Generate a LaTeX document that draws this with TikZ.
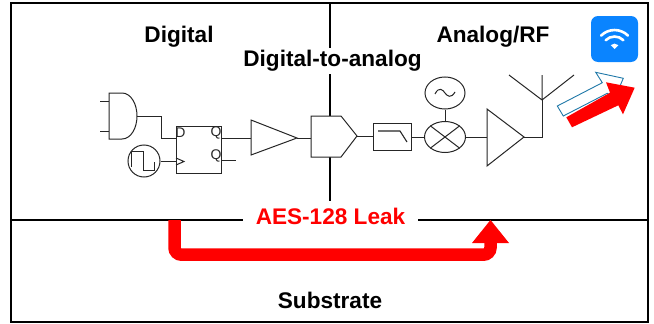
\documentclass[tikz,border=0pt]{standalone}
\usepackage{fontspec}
\setmainfont{Liberation Sans}
\usetikzlibrary{calc,shapes.geometric}
\definecolor{wifiblue}{HTML}{0A84FF}
\definecolor{outlineblue}{HTML}{1F78A8}
\tikzset{
  frame/.style={draw=black,line width=2.2pt},
  wire/.style={draw=black!85,line width=1pt},
  part/.style={draw=black!85,line width=1pt,fill=white},
  lab/.style={font=\bfseries\fontsize{22.6}{25}\selectfont,text=black,inner sep=0pt},
  ffpin/.style={font=\fontsize{14}{15}\selectfont,text=black!85,inner sep=0pt},
  roundpart/.style={part,shape=ellipse,inner sep=0pt},
  leak/.style={fill=red,draw=none},
  wifiarc/.style={draw=white,line width=2.6pt},
}
\begin{document}
\begin{tikzpicture}[x=1pt,y=-1pt]
\useasboundingbox (0,0) rectangle (654,324);
% frame and partitions
\coordinate (fTL) at (11,3); \coordinate (fBR) at (648,322);
\draw[frame] (fTL) rectangle (fBR);
\coordinate (hL) at (11,220); \coordinate (hR) at (648,220);
\coordinate (vT) at (330,3); \coordinate (vB) at (330,220);
\draw[frame] (hL) -- (hR);
\draw[frame] (vT) -- (vB);
% leak arrow
\coordinate (a1) at (174.5,220); \coordinate (a2) at (490.5,243);
\draw[red,line width=12.5pt,rounded corners=7pt] (a1) -- (174.5,254.7) -- (490.5,254.7) -- (a2);
\fill[leak] (490.5,220) -- (509,243) -- (472,243) -- cycle;
% labels
\node[lab] (digital) at (179,37) {Digital};
\node[lab] (analog) at (493,37) {Analog/RF};
\node[lab,fill=white,inner xsep=1pt,inner ysep=2pt] (d2a) at (332.5,61) {Digital-to-analog};
\node[lab,text=red,fill=white,minimum width=175pt,minimum height=30pt] (aes) at (330.5,216) {AES-128 Leak};
\node[lab] (sub) at (330,300) {Substrate};
% AND gate
\coordinate (and1) at (100,101); \coordinate (and2) at (100,131);
\coordinate (andO) at (137,116);
\draw[wire] (and1) -- (109,101) (and2) -- (109,131);
\draw[part] (109,93) -- (122,93) .. controls (131,93) and (137,104) .. (andO) .. controls (137,128) and (131,139) .. (122,139) -- (109,139) -- cycle;
% flip-flop
\node[part,minimum width=45pt,minimum height=47pt,inner sep=0pt] (ff) at (198.5,149.5) {};
\node[ffpin] (dpin) at (180.5,133) {D};
\node[ffpin] (qpin) at (216,133) {Q};
\node[ffpin] (qbpin) at (216,156) {Q};
\draw[wire] (andO) -- (161,116) -- (161,138) -- (176,138);
\draw[wire] (176,158) -- (184,161.5) -- (176,165);
% clock
\node[roundpart,minimum width=32pt,minimum height=32pt] (clk) at (144,161) {};
\draw[wire] (131,167) -- (131,151) -- (143,151) -- (143,170) -- (154,170) -- (154,162);
\draw[wire] (clk.east) -- (176,161);
% buffer
\coordinate (bufT) at (251,120); \coordinate (bufB) at (251,155); \coordinate (bufO) at (297,138);
\draw[wire] (221,138) -- (251,138);
\draw[wire] (221,160.5) -- (236,160.5);
\draw[part] (bufT) -- (bufO) -- (bufB) -- cycle;
% DAC
\coordinate (dacO) at (357,136);
\draw[wire] (bufO) -- (311,138);
\draw[part] (311,116) -- (341,116) -- (dacO) -- (341,157) -- (311,157) -- cycle;
% filter
\node[part,minimum width=38pt,minimum height=27pt,inner sep=0pt] (lpf) at (392,136.5) {};
\draw[wire] (dacO) -- (lpf.west |- dacO);
\draw[wire,line width=1.1pt] (378,131) -- (400,131) -- (407,142);
% mixer
\node[roundpart,minimum width=41pt,minimum height=31pt] (mix) at (445,137) {};
\draw[wire] (mix.north west) -- (mix.south east) (mix.north east) -- (mix.south west);
\draw[wire] (lpf.east |- mix) -- (mix.west);
% oscillator
\node[roundpart,minimum width=40pt,minimum height=32pt] (osc) at (445,93) {};
\draw[wire] (osc.south) -- (mix.north);
\draw[wire] (435,94) .. controls (439,86) and (443,90) .. (445,93) .. controls (447,96) and (451,99) .. (455,92);
% amplifier
\coordinate (ampT) at (487,109); \coordinate (ampB) at (487,166); \coordinate (ampO) at (524,137);
\draw[wire] (mix.east) -- (487,137);
\draw[part] (ampT) -- (ampO) -- (ampB) -- cycle;
% antenna
\coordinate (ant) at (542,100);
\draw[wire] (ampO) -- (542,137) -- (ant);
\draw[wire] (ant) -- (509,75) (ant) -- (542,75) (ant) -- (574,75);
% wifi icon
\node[fill=wifiblue,rounded corners=7pt,minimum width=47pt,minimum height=46pt,inner sep=0pt] (wifi) at (614.5,39) {};
\coordinate (wc) at (614.5,49);
\draw[wifiarc,line cap=round] ($(wc)+(-13.4,-13.4)$) arc[start angle=135,end angle=45,radius=19pt];
\draw[wifiarc,line cap=round] ($(wc)+(-8.8,-8.8)$) arc[start angle=135,end angle=45,radius=12.5pt];
\fill[white] (wc) -- ($(wc)+(-3.8,-3.8)$) arc[start angle=135,end angle=45,radius=5.4pt] -- cycle;
% signal arrows
\draw[draw=outlineblue,line width=0.9pt,fill=white] (557.3,106) -- (602.3,82.7) -- (595.7,72.3) -- (623.3,78.3) -- (614.7,98.3) -- (607.3,93.3) -- (563.3,116) -- cycle;
\fill[leak] (566.3,117.3) -- (610,92.7) -- (606,82.3) -- (634.7,87.7) -- (623,114.3) -- (618.3,105.3) -- (572,127.3) -- cycle;
\end{tikzpicture}
\end{document}
